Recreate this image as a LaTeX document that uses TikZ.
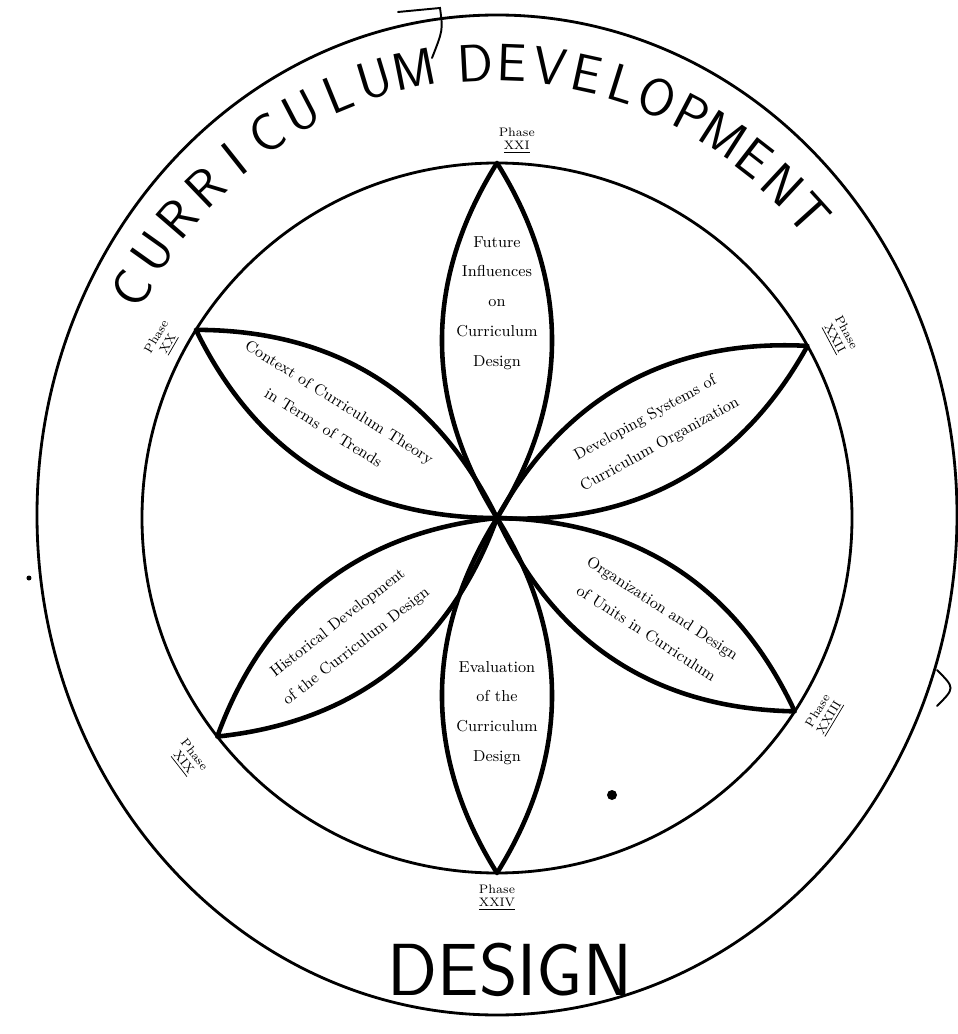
\documentclass[tikz,border=0pt]{standalone}
\newcommand\rimfont{\sffamily\fontsize{30}{30}\selectfont}
\tikzset{
  ring/.style={line width=1.6pt},
  petal/.style={line width=2.6pt,line join=round},
  leaf text/.style={font=\fontsize{9}{17}\selectfont,align=center,inner sep=1pt},
  phase/.style={font=\fontsize{7}{7.5}\selectfont,align=center,inner sep=0pt},
  rim letter/.style={font=\rimfont,inner sep=0pt},
  scribble/.style={line width=1.1pt,line cap=round}
}
\begin{document}
\begin{tikzpicture}[x=0.02cm,y=0.02cm]
  \useasboundingbox (-497,-516) rectangle (460,518);
  % the two rings
  \draw[ring] (0,3) circle[x radius=460,y radius=500];
  \draw[ring] (0,0) circle[radius=355];
  % six petals
  \coordinate (hub) at (0,0);
  \foreach \n/\a in {n/90,ne/29,se/-33,s/-90,sw/218,nw/148}{
    \coordinate (tip-\n) at (\a:355);
    \draw[petal] (hub) to[bend left=32] (tip-\n) to[bend left=32] (hub);
  }
  % petal texts
  \node[leaf text] (txt-n) at (0,215) {Future\\Influences\\on\\Curriculum\\Design};
  \node[leaf text,rotate=29] (txt-ne) at (29:178) {Developing Systems of\\Curriculum Organization};
  \node[leaf text,rotate=-33] (txt-se) at (-33:188) {Organization and Design\\of Units in Curriculum};
  \node[leaf text] (txt-s) at (0,-195) {Evaluation\\of the\\Curriculum\\Design};
  \node[leaf text,rotate=38] (txt-sw) at (218:190) {Historical Development\\of the Curriculum Design};
  \node[leaf text,rotate=-32] (txt-nw) at (148:195) {Context of Curriculum Theory\\in Terms of Trends};
  % phase labels at the tips
  \node[phase] (ph-n) at (87:378) {Phase\\\underline{XXI}};
  \node[phase,rotate=-62] (ph-ne) at (28:388) {Phase\\\underline{XXII}};
  \node[phase,rotate=59] (ph-se) at (-31:382) {Phase\\\underline{XXIII}};
  \node[phase] (ph-s) at (-90:380) {Phase\\\underline{XXIV}};
  \node[phase,rotate=-52] (ph-sw) at (218:392) {Phase\\\underline{XIX}};
  \node[phase,rotate=60] (ph-nw) at (152:378) {Phase\\\underline{XX}};
  % lettering on the rim
  \foreach \ch [count=\i] in {C,U,R,R,I,C,U,L,U,M}{
    \pgfmathsetmacro\ang{150-(\i-1)*5.4}
    \node[rim letter,rotate=\ang-90] (cu-\i) at ({422*cos(\ang)},{458*sin(\ang)}) {\ch};
  }
  \foreach \ch [count=\i] in {D,E,V,E,L,O,P,M,E,N,T}{
    \pgfmathsetmacro\ang{93-(\i-1)*5.1}
    \node[rim letter,rotate=\ang-90] (dv-\i) at ({420*cos(\ang)},{455*sin(\ang)}) {\ch};
  }
  \node[font=\sffamily\fontsize{42}{42}\selectfont] (design) at (13,-452) {DESIGN};
  % stray marks of the scan
  \draw[scribble] (-99,506) -- (-57,510) .. controls (-54,488) .. (-65,460);
  \fill (115,-277) circle[radius=5];
  \draw[scribble] (440,-152) .. controls (458,-170) .. (440,-188);
  \fill (-468,-60) circle[radius=2.5];
\end{tikzpicture}
\end{document}
